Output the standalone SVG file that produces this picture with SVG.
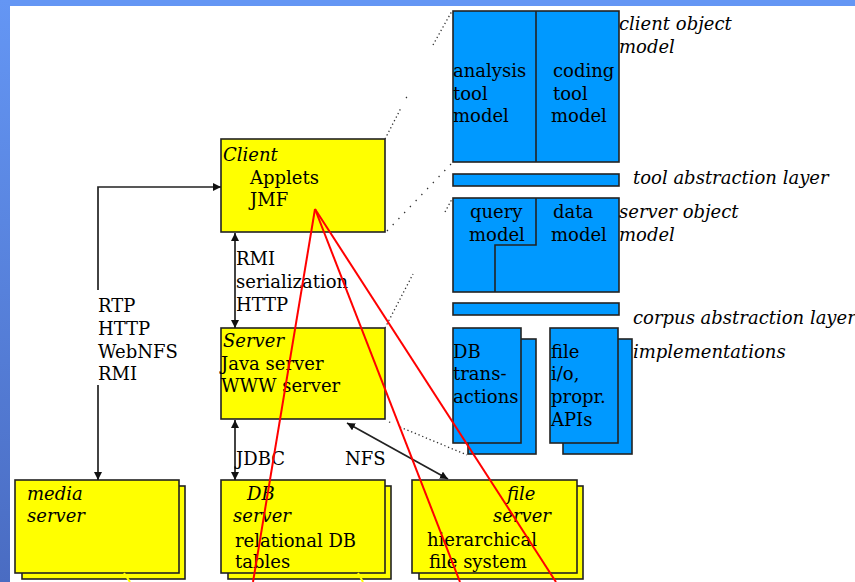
<svg xmlns="http://www.w3.org/2000/svg" width="855" height="582" viewBox="0 0 855 582">
<defs>
<linearGradient id="sideGrad" x1="0" y1="0" x2="0" y2="1">
<stop offset="0" stop-color="#6496F4"/>
<stop offset="1" stop-color="#4A6CC2"/>
</linearGradient>
<marker id="ah" viewBox="0 0 10 10" refX="10" refY="5" markerWidth="8" markerHeight="8" markerUnits="userSpaceOnUse" orient="auto-start-reverse">
<path d="M0,0 L10,5 L0,10 Z" fill="#111"/>
</marker>
<style>
.t{font-family:"DejaVu Serif","Liberation Serif",serif;font-size:18px;fill:#000}
.i{font-family:"DejaVu Serif","Liberation Serif",serif;font-size:18px;font-style:italic;fill:#000}
.y{fill:#FFFF00;stroke:#222;stroke-width:1.6}
.b{fill:#0099FF;stroke:#222;stroke-width:1.6}
.c{fill:none;stroke:#222;stroke-width:1.7}
.d{fill:none;stroke:#333;stroke-width:1.3;stroke-dasharray:1.3 2.7}
.ds{fill:none;stroke:#333;stroke-width:1.3;stroke-dasharray:1.3 7}
.r{fill:none;stroke:#FF0000;stroke-width:2}
.yl{fill:none;stroke:#FFFF00;stroke-width:2}
</style>
</defs>
<rect x="0" y="0" width="855" height="582" fill="#FFFFFF"/>
<rect x="0" y="0" width="855" height="6" fill="#6496F4"/>
<rect x="0" y="0" width="10" height="582" fill="url(#sideGrad)"/>

<g id="client">
<rect class="y" x="221" y="139" width="164" height="93"/>
<text class="i" x="223" y="161">Client</text>
<text class="t" x="250" y="184">Applets</text>
<text class="t" x="250" y="206">JMF</text>
</g>

<g id="server">
<rect class="y" x="221" y="328" width="164" height="91"/>
<text class="i" x="223" y="347">Server</text>
<text class="t" x="221" y="370">Java server</text>
<text class="t" x="221" y="392">WWW server</text>
</g>

<g id="media-server">
<rect class="y" x="22" y="486" width="163" height="93"/>
<rect class="y" x="15" y="480" width="164" height="93"/>
<text class="i" x="27" y="500">media</text>
<text class="i" x="27" y="522">server</text>
</g>

<g id="db-server">
<rect class="y" x="228" y="486" width="163" height="93"/>
<rect class="y" x="221" y="480" width="164" height="93"/>
<text class="i" x="247" y="500">DB</text>
<text class="i" x="233" y="522">server</text>
<text class="t" x="235" y="547">relational DB</text>
<text class="t" x="235" y="568">tables</text>
</g>

<g id="file-server">
<rect class="y" x="419" y="486" width="164" height="93"/>
<rect class="y" x="412" y="480" width="165" height="93"/>
<text class="i" x="507" y="500">file</text>
<text class="i" x="493" y="522">server</text>
<text class="t" x="427" y="546">hierarchical</text>
<text class="t" x="429" y="568">file system</text>
</g>

<g id="client-object-model">
<rect class="b" x="453" y="11" width="166" height="151"/>
<line x1="536" y1="11" x2="536" y2="162" stroke="#222" stroke-width="1.6"/>
<text class="t" x="453" y="77">analysis</text>
<text class="t" x="453" y="100">tool</text>
<text class="t" x="453" y="122">model</text>
<text class="t" x="553" y="77">coding</text>
<text class="t" x="553" y="100">tool</text>
<text class="t" x="551" y="122">model</text>
<text class="i" x="619" y="30">client object</text>
<text class="i" x="619" y="53">model</text>
</g>

<g id="tool-abstraction-layer">
<rect class="b" x="453" y="174" width="166" height="12"/>
<text class="i" x="633" y="184">tool abstraction layer</text>
</g>

<g id="server-object-model">
<rect class="b" x="453" y="198" width="166" height="94"/>
<polyline points="536,198 536,245 495,245 495,292" fill="none" stroke="#222" stroke-width="1.6"/>
<text class="t" x="470" y="218">query</text>
<text class="t" x="469" y="241">model</text>
<text class="t" x="553" y="218">data</text>
<text class="t" x="551" y="241">model</text>
<text class="i" x="619" y="218">server object</text>
<text class="i" x="619" y="241">model</text>
</g>

<g id="corpus-abstraction-layer">
<rect class="b" x="453" y="303" width="166" height="12"/>
<text class="i" x="633" y="324">corpus abstraction layer</text>
</g>

<g id="db-transactions">
<rect class="b" x="468" y="339" width="68" height="115"/>
<rect class="b" x="453" y="328" width="68" height="115"/>
<text class="t" x="453" y="358">DB</text>
<text class="t" x="453" y="380">trans-</text>
<text class="t" x="453" y="403">actions</text>
</g>

<g id="file-io">
<rect class="b" x="563" y="339" width="69" height="115"/>
<rect class="b" x="550" y="328" width="68" height="115"/>
<text class="t" x="551" y="358">file</text>
<text class="t" x="551" y="380">i/o,</text>
<text class="t" x="551" y="403">propr.</text>
<text class="t" x="551" y="426">APIs</text>
<text class="i" x="633" y="358">implementations</text>
</g>

<g id="connectors">
<polyline class="c" points="98,290 98,187 221,187" marker-end="url(#ah)"/>
<line class="c" x1="98" y1="385" x2="98" y2="480" marker-end="url(#ah)"/>
<text class="t" x="98" y="312">RTP</text>
<text class="t" x="98" y="335">HTTP</text>
<text class="t" x="98" y="358">WebNFS</text>
<text class="t" x="98" y="380">RMI</text>

<line class="c" x1="235" y1="233" x2="235" y2="328" marker-start="url(#ah)" marker-end="url(#ah)"/>
<text class="t" x="236" y="265">RMI</text>
<text class="t" x="236" y="288">serialization</text>
<text class="t" x="236" y="311">HTTP</text>

<line class="c" x1="235" y1="420" x2="235" y2="480" marker-start="url(#ah)" marker-end="url(#ah)"/>
<text class="t" x="236" y="465">JDBC</text>

<line class="c" x1="347" y1="423" x2="448" y2="479" stroke-width="1.4" marker-start="url(#ah)" marker-end="url(#ah)"/>
<text class="t" x="345" y="465">NFS</text>

<path class="d" d="M385,139 L401,108 M406,98 L407,97 M433,45 L452,11"/>
<path class="ds" d="M387,231 L452,163"/>
<path class="d" d="M385,328 L413,274 M445,212 L452,199"/>
<path class="d" d="M389,422 L392,423 M400,427 L467,455"/>

<line class="r" x1="315" y1="209" x2="253" y2="582"/>
<line class="r" x1="315" y1="209" x2="460" y2="582"/>
<line class="r" x1="315" y1="209" x2="556" y2="582"/>

<line class="yl" x1="124" y1="573" x2="130" y2="582"/>
<line class="yl" x1="358" y1="573" x2="363" y2="582"/>
</g>
</svg>
